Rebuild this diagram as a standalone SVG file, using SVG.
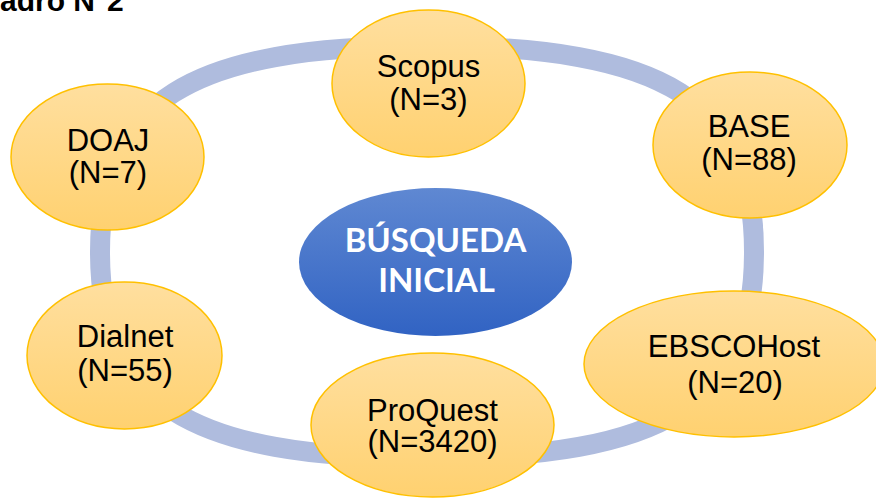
<svg xmlns="http://www.w3.org/2000/svg" width="876" height="498" viewBox="0 0 876 498">
  <defs>
    <linearGradient id="gOrange" x1="0" y1="0" x2="0" y2="1">
      <stop offset="0" stop-color="#FFDF9F"/>
      <stop offset="1" stop-color="#FFD170"/>
    </linearGradient>
    <linearGradient id="gBlue" x1="0" y1="0" x2="0" y2="1">
      <stop offset="0" stop-color="#5F88D2"/>
      <stop offset="1" stop-color="#3163C3"/>
    </linearGradient>
    <style>
      .node { fill: url(#gOrange); stroke: #FFC000; stroke-width: 1.5; }
      .lbl { font-family: "Liberation Sans", Arial, sans-serif; font-size: 31px; fill: #000000; text-anchor: middle; }
      .center { fill: url(#gBlue); }
      .clbl { font-family: Lato, "Open Sans", sans-serif; font-weight: bold; font-size: 33px; fill: #FFFFFF; text-anchor: middle; }
      .ring { fill: none; stroke: #AFBCDE; stroke-width: 20; }
      .title { font-family: "Liberation Sans", Arial, sans-serif; font-weight: bold; font-size: 30px; fill: #000000; }
    </style>
  </defs>
  <rect width="876" height="498" fill="#FFFFFF"/>
  <text class="title" x="0" y="11">adro N°2</text>
  <g id="connectors">
    <path class="ring" d="M 100,252 C 100,101.6 188.3,46 427,46 C 665.7,46 754,101.6 754,252 C 754,402.4 665.7,458 427,458 C 188.3,458 100,402.4 100,252 Z"/>
  </g>
  <g id="node-center">
    <ellipse class="center" cx="435.5" cy="262" rx="136.5" ry="74"/>
    <text class="clbl" x="435.5" y="252">BÚSQUEDA</text>
    <text class="clbl" x="436.5" y="292">INICIAL</text>
  </g>
  <g id="node-scopus">
    <ellipse class="node" cx="428.5" cy="83.5" rx="96.5" ry="73.5"/>
    <text class="lbl" x="428.5" y="77">Scopus</text>
    <text class="lbl" x="428.5" y="110">(N=3)</text>
  </g>
  <g id="node-base">
    <ellipse class="node" cx="750" cy="145" rx="97" ry="73"/>
    <text class="lbl" x="749" y="137">BASE</text>
    <text class="lbl" x="749" y="170">(N=88)</text>
  </g>
  <g id="node-ebscohost">
    <ellipse class="node" cx="734" cy="364" rx="150" ry="73"/>
    <text class="lbl" x="734" y="357">EBSCOHost</text>
    <text class="lbl" x="735" y="393">(N=20)</text>
  </g>
  <g id="node-proquest">
    <ellipse class="node" cx="432.5" cy="425" rx="121.5" ry="72"/>
    <text class="lbl" x="432.5" y="421">ProQuest</text>
    <text class="lbl" x="432.5" y="452">(N=3420)</text>
  </g>
  <g id="node-dialnet">
    <ellipse class="node" cx="124.5" cy="355.5" rx="97.5" ry="73.5"/>
    <text class="lbl" x="125" y="347">Dialnet</text>
    <text class="lbl" x="125" y="381">(N=55)</text>
  </g>
  <g id="node-doaj">
    <ellipse class="node" cx="107.5" cy="157" rx="96.5" ry="73"/>
    <text class="lbl" x="108" y="151">DOAJ</text>
    <text class="lbl" x="108" y="183">(N=7)</text>
  </g>
</svg>
